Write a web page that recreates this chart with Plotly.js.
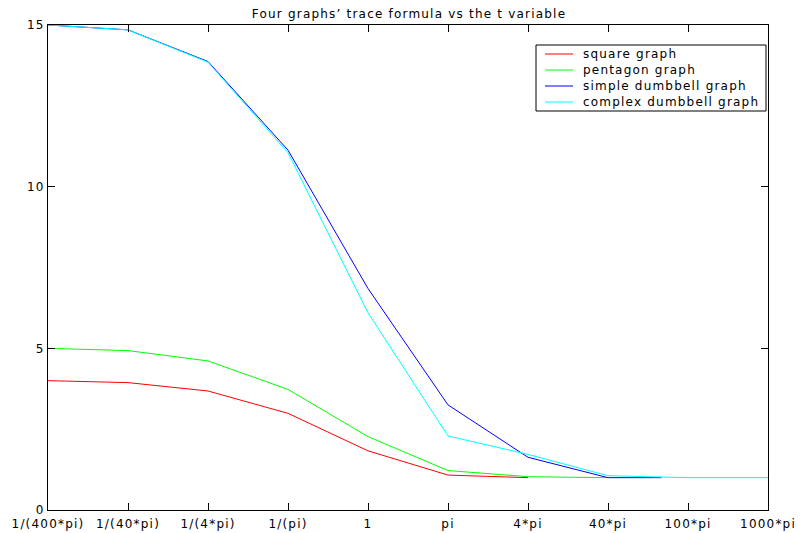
<!DOCTYPE html>
<html>
<head>
<meta charset="utf-8">
<script src="https://cdn.plot.ly/plotly-3.0.1.min.js"></script>
<style>
  html, body { margin: 0; padding: 0; background: #fff; }
  #chart { width: 805px; height: 533px; }
  text { letter-spacing: 1.2px; }
</style>
</head>
<body>
<div id="chart"></div>
<script>
// Tick labels (positions 1..10 on the x axis)
const tickLabels = ["1/(400*pi)", "1/(40*pi)", "1/(4*pi)", "1/(pi)", "1", "pi", "4*pi", "40*pi", "100*pi", "1000*pi"];
const tickPositions = [1, 2, 3, 4, 5, 6, 7, 8, 9, 10];
const yTickVals = [0, 5, 10, 15];

// Series
const squareX = [1, 2, 3, 4, 5, 6, 7];
const squareY = [4.0, 3.94, 3.68, 2.99, 1.83, 1.08, 1.0];

const pentagonX = [1, 2, 3, 4, 5, 6, 7, 8];
const pentagonY = [5.0, 4.93, 4.61, 3.73, 2.27, 1.22, 1.03, 1.0];

const simpleX = [1, 2, 3, 4, 5, 6, 7, 8, 8.67];
const simpleY = [15.0, 14.85, 13.87, 11.13, 6.85, 3.25, 1.63, 1.0, 1.0];

const complexX = [1, 2, 3, 4, 5, 6, 7, 8, 9, 10];
const complexY = [15.0, 14.85, 13.85, 11.05, 6.1, 2.29, 1.72, 1.06, 1.0, 1.0];

const names = ["square graph", "pentagon graph", "simple dumbbell graph", "complex dumbbell graph"];
const colors = ["#ff0000", "#00ff00", "#0000ff", "#00ffff"];
const xs = [squareX, pentagonX, simpleX, complexX];
const ys = [squareY, pentagonY, simpleY, complexY];

const FAMILY = "DejaVu Sans, Arial, sans-serif";
const txt = { family: FAMILY, size: 12, color: "#000" };

const traces = names.map((n, i) => ({
  type: "scatter",
  mode: "lines",
  name: n,
  x: xs[i],
  y: ys[i],
  line: { color: colors[i], width: 1 },
  hoverinfo: "skip",
  showlegend: false
}));

// Legend box drawn in paper coordinates (MATLAB-style compact legend)
const W = 805, H = 533, ML = 48, MR = 37, MT = 25, MB = 23;
const PW = W - ML - MR, PH = H - MT - MB;
const px = v => (v - ML) / PW;
const py = v => (H - MB - v) / PH;

const legBox = { x0: 536, x1: 766, y0: 45, y1: 111 };
const rowTop = 54, rowStep = 16;
const shapes = [{
  type: "rect", xref: "paper", yref: "paper",
  x0: px(legBox.x0), x1: px(legBox.x1), y0: py(legBox.y1), y1: py(legBox.y0),
  line: { color: "#000", width: 1 }, fillcolor: "#fff", layer: "above"
}];
const annotations = [];
names.forEach((n, i) => {
  const yy = py(rowTop + i * rowStep);
  shapes.push({
    type: "line", xref: "paper", yref: "paper",
    x0: px(545), x1: px(573), y0: yy, y1: yy,
    line: { color: colors[i], width: 1 }, layer: "above"
  });
  annotations.push({
    xref: "paper", yref: "paper", x: px(581), y: yy,
    xanchor: "left", yanchor: "middle", showarrow: false,
    text: n, font: txt
  });
});

const axisCommon = {
  tickmode: "array",
  ticks: "inside",
  ticklen: 7,
  tickwidth: 1,
  tickcolor: "#000",
  showline: true,
  linecolor: "#000",
  linewidth: 1,
  mirror: "ticks",
  showgrid: false,
  zeroline: false,
  tickfont: txt,
  fixedrange: true
};

const layout = {
  width: W,
  height: H,
  margin: { l: ML, r: MR, t: MT, b: MB, pad: 0 },
  paper_bgcolor: "#fff",
  plot_bgcolor: "#fff",
  font: txt,
  title: {
    text: "Four graphs’ trace formula vs the t variable",
    font: txt,
    x: 409 / W, xanchor: "center",
    y: 1 - 14 / H, yanchor: "middle"
  },
  xaxis: Object.assign({}, axisCommon, {
    range: [1, 10],
    tickvals: tickPositions,
    ticktext: tickLabels,
    ticklabelstandoff: 3
  }),
  yaxis: Object.assign({}, axisCommon, {
    range: [0, 15],
    tickvals: yTickVals,
    ticktext: yTickVals.map(String)
  }),
  showlegend: false,
  shapes: shapes,
  annotations: annotations
};

Plotly.newPlot("chart", traces, layout, { displayModeBar: false, staticPlot: true });
</script>
</body>
</html>
